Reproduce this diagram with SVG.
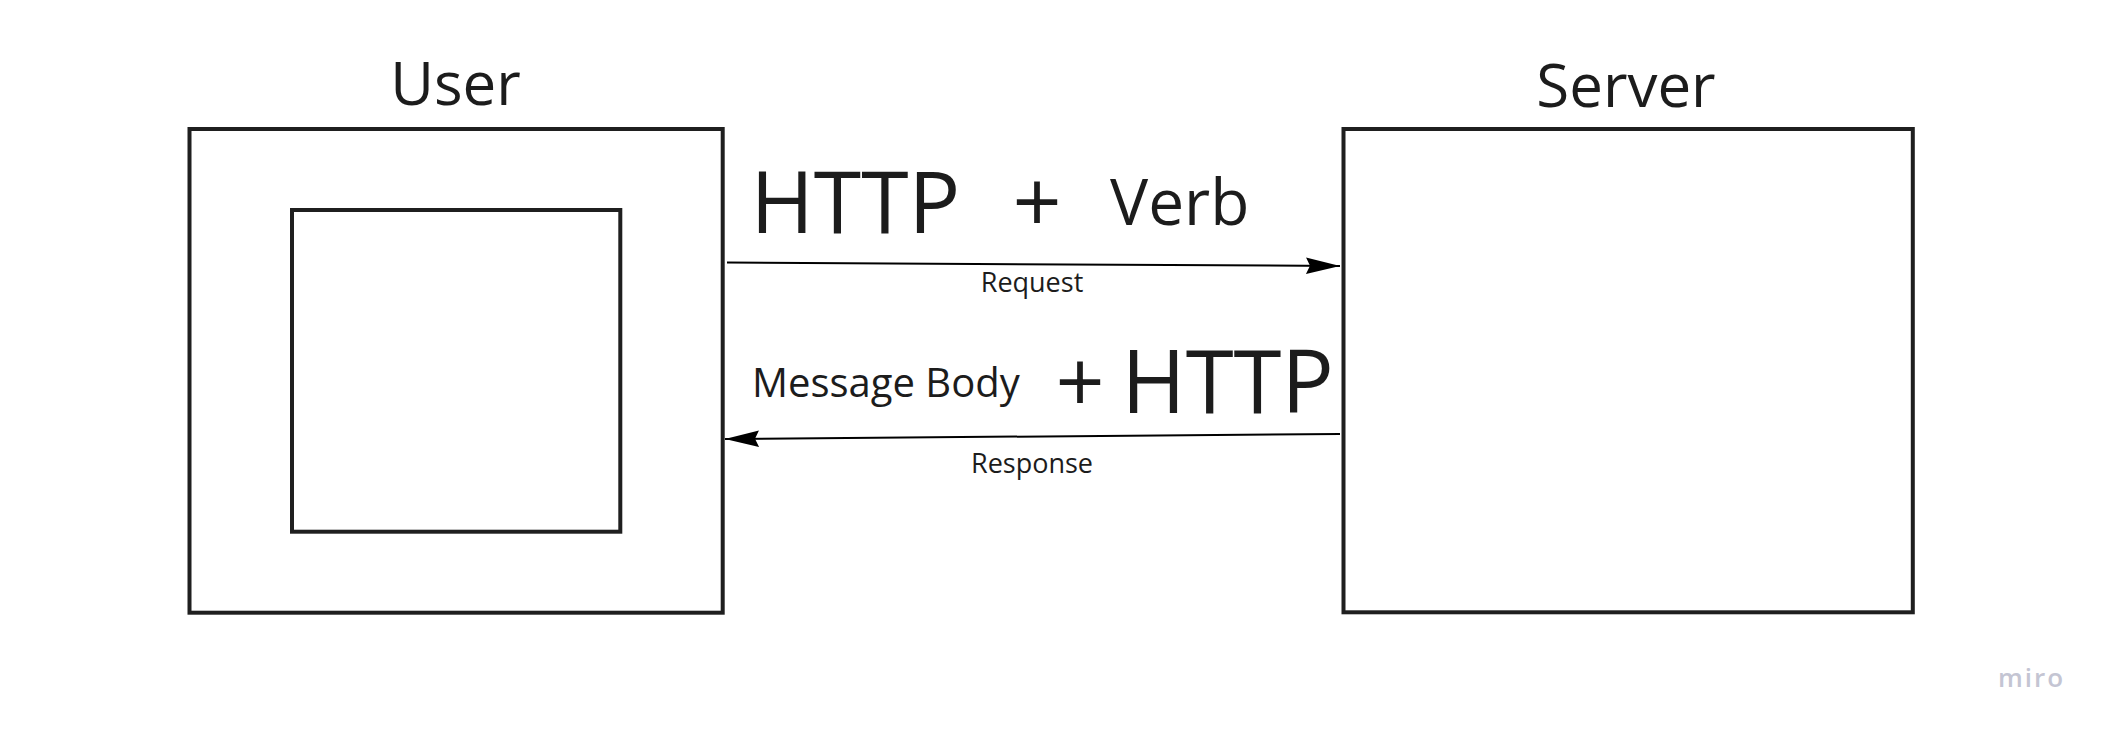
<svg xmlns="http://www.w3.org/2000/svg" width="2114" height="739" viewBox="0 0 2114 739">
  <style>
    .box { fill: #ffffff; stroke: #1f1f1f; stroke-width: 4; }
    .t { font-family: "Open Sans", "Noto Sans", "Liberation Sans", sans-serif; fill: #1c1c1c; }
    .conn { stroke: #000000; stroke-width: 2; fill: none; }
  </style>
  <defs>
    <marker id="arrow" markerUnits="userSpaceOnUse" markerWidth="40" markerHeight="24" refX="34" refY="8.3" orient="auto" overflow="visible">
      <path d="M0,0 L34,8.3 L0,16.6 L4,8.3 Z" fill="#000000"/>
    </marker>
  </defs>
  <rect width="2114" height="739" fill="#ffffff"/>

  <g id="user">
    <rect class="box" x="189.5" y="129" width="533.2" height="483.7"/>
    <text class="t" x="455.5" y="105" font-size="60" text-anchor="middle">User</text>
  </g>
  <g id="user-inner">
    <rect class="box" x="292" y="210" width="328.3" height="321.7"/>
  </g>
  <g id="server">
    <rect class="box" x="1343.5" y="129" width="569.3" height="483.3"/>
    <text class="t" x="1626" y="106.5" font-size="60" text-anchor="middle">Server</text>
  </g>

  <g id="connectors">
    <line class="conn" x1="727" y1="262.5" x2="1340" y2="266" marker-end="url(#arrow)"/>
    <line class="conn" x1="1340" y1="434" x2="725" y2="439" marker-end="url(#arrow)"/>
  </g>

  <g id="labels">
    <text class="t" x="750.4" y="233" font-size="86">HTTP</text>
    <text class="t" x="1037" y="233" font-size="86" text-anchor="middle">+</text>
    <text class="t" x="1110" y="225" font-size="64">Verb</text>
    <text class="t" x="1032" y="292" font-size="27" text-anchor="middle">Request</text>
    <text class="t" x="752" y="397" font-size="40">Message Body</text>
    <text class="t" x="1080" y="413" font-size="86" text-anchor="middle">+</text>
    <text class="t" x="1121.5" y="412.7" font-size="87">HTTP</text>
    <text class="t" x="1032" y="472.7" font-size="27" text-anchor="middle">Response</text>
  </g>

  <text x="1998" y="687" font-family="'Open Sans', 'Noto Sans', sans-serif" font-size="26" font-weight="600" letter-spacing="2" fill="#c4c5d3">miro</text>
</svg>
